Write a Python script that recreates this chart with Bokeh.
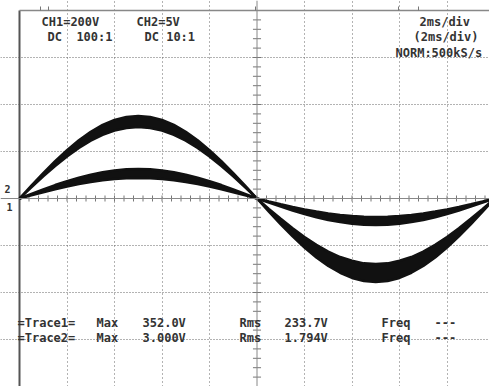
import numpy as np
from bokeh.plotting import figure
from bokeh.models import Range1d, Span, Label, Grid, FixedTicker
from bokeh.embed import file_html
from bokeh.resources import INLINE

# ---------------- data ----------------
# time axis, ms (2 ms/div)
t_ms = [0.0, 0.5, 1.0, 1.5, 2.0, 2.5, 3.0, 3.5, 4.0, 4.5, 5.0,
        5.5, 6.0, 6.5, 7.0, 7.5, 8.0, 8.5, 9.0, 9.5, 10.0,
        10.5, 11.0, 11.5, 12.0, 12.5, 13.0, 13.5, 14.0, 14.5, 15.0,
        15.5, 16.0, 16.5, 17.0, 17.5, 18.0, 18.5, 19.0, 19.5, 20.0]

# Trace 1 (CH1, 200 V/div): outer and inner edge of the thick band, volts
ch1_outer = [0, 55, 108, 159, 206, 248, 284, 313, 334, 347, 351,
             347, 334, 313, 284, 248, 206, 159, 108, 55, 0,
             -56, -110, -161, -209, -251, -287, -316, -338, -351, -355,
             -351, -338, -316, -287, -251, -209, -161, -110, -56, 0]
ch1_inner = [0, 47, 94, 138, 179, 215, 246, 271, 289, 300, 304,
             300, 289, 271, 246, 215, 179, 138, 94, 47, 0,
             -44, -86, -127, -164, -197, -226, -249, -265, -276, -279,
             -276, -265, -249, -226, -197, -164, -127, -86, -44, 0]

# Trace 2 (CH2, 5 V/div): outer and inner edge, volts
ch2_outer = [0, 0.49, 0.97, 1.43, 1.85, 2.22, 2.54, 2.80, 2.99, 3.10, 3.14,
             3.10, 2.99, 2.80, 2.54, 2.22, 1.85, 1.43, 0.97, 0.49, 0,
             -0.44, -0.87, -1.28, -1.66, -1.99, -2.28, -2.51, -2.68, -2.79, -2.82,
             -2.79, -2.68, -2.51, -2.28, -1.99, -1.66, -1.28, -0.87, -0.44, 0]
ch2_inner = [0, 0.34, 0.67, 0.99, 1.28, 1.54, 1.76, 1.94, 2.07, 2.15, 2.18,
             2.15, 2.07, 1.94, 1.76, 1.54, 1.28, 0.99, 0.67, 0.34, 0,
             -0.31, -0.61, -0.89, -1.16, -1.39, -1.59, -1.76, -1.87, -1.95, -1.97,
             -1.95, -1.87, -1.76, -1.59, -1.39, -1.16, -0.89, -0.61, -0.31, 0]

# screen texts
NB = "\u00a0"
top_left = ["CH1=200V", "DC" + NB * 2 + "100:1", "CH2=5V", "DC" + NB + "10:1"]
top_right = ["2ms/div", "(2ms/div)", "NORM:500kS/s"]
row1 = ["=Trace1=", "Max", "352.0V", "Rms", "233.7V", "Freq", "---"]
row2 = ["=Trace2=", "Max", "3.000V", "Rms", "1.794V", "Freq", "---"]

# ---------------- figure (frame fills the whole window) ----------------
W, H = 489, 386
L, T = 19, 10                 # graticule's left and top edge, px
PX_PER_MS = 47.5 / 2.0
PX_PER_DIV_Y = 47.0
YC = T + 4 * PX_PER_DIV_Y     # centre line, px
V1 = 200.0 / PX_PER_DIV_Y     # CH1 volts per px
V2 = 5.0 / PX_PER_DIV_Y       # CH2 volts per px

x0, x1 = -L / PX_PER_MS, (W - L) / PX_PER_MS
p = figure(width=W, height=H, output_backend="svg", toolbar_location=None,
           x_range=Range1d(x0, x1), y_range=Range1d(-(H - YC) * V1, YC * V1),
           x_axis_location=None, y_axis_location=None,
           min_border_left=0, min_border_top=0, min_border_right=0, min_border_bottom=0)
p.extra_y_ranges = {"ch2": Range1d(-(H - YC) * V2, YC * V2)}
p.outline_line_color = None
p.background_fill_color = "white"
p.border_fill_color = "white"
p.grid.visible = False

def px_x(px):
    return (px - L) / PX_PER_MS

def px_y(py):
    return (YC - py) * V1

# dotted graticule
p.add_layout(Grid(dimension=0, ticker=FixedTicker(ticks=[2, 4, 6, 8, 12, 14, 16, 18]),
                  grid_line_color="#666666", grid_line_dash="1 3", grid_line_width=1))
p.add_layout(Grid(dimension=1, ticker=FixedTicker(ticks=[-600, -400, -200, 200, 400, 600]),
                  grid_line_color="#666666", grid_line_dash="1 2", grid_line_width=1))

# centre axes with minor ticks
p.add_layout(Span(location=10, dimension="height", line_color="#888888", line_width=1))
p.add_layout(Span(location=0, dimension="width", line_color="#888888", line_width=1))
tx = np.arange(0.4, 20, 0.4)
p.segment(x0=tx, y0=-12.8, x1=tx, y1=12.8, line_color="#777777", line_width=1)
ty = np.arange(-760, 800, 40)
p.segment(x0=10 - 0.17, y0=ty, x1=10 + 0.17, y1=ty, line_color="#777777", line_width=1)

# frame borders (left, top)
p.segment(x0=0, y0=-800, x1=0, y1=800, line_color="#555555", line_width=2)
p.segment(x0=0, y0=800, x1=x1, y1=800, line_color="#888888", line_width=1.5)
# small markers above the top border
mk = [px_x(v) for v in (40, 48, 255, 398, 418)]
p.segment(x0=mk, y0=800, x1=mk, y1=800 + 4 * V1, line_color="#777777", line_width=1)

# traces
wave = "#111111"
p.varea(x=t_ms, y1=ch1_inner, y2=ch1_outer, fill_color=wave)
p.line(t_ms, ch1_inner, line_color=wave, line_width=2.5)
p.line(t_ms, ch1_outer, line_color=wave, line_width=2.5)
p.varea(x=t_ms, y1=ch2_inner, y2=ch2_outer, fill_color=wave, y_range_name="ch2")
p.line(t_ms, ch2_inner, line_color=wave, line_width=2.5, y_range_name="ch2")
p.line(t_ms, ch2_outer, line_color=wave, line_width=2.5, y_range_name="ch2")

FONT = "DejaVu Sans Mono"
def lab(text, xpx, ypx, size="12px", style="bold", color="#333333"):
    p.add_layout(Label(x=px_x(xpx), y=px_y(ypx), text=text, text_font=FONT,
                       text_font_size=size, text_font_style=style, text_color=color,
                       text_baseline="alphabetic", text_align="left"))

# top-left channel info
for txt, (xx, yy) in zip(top_left, [(41, 21), (47, 36), (136, 21), (144, 36)]):
    lab(txt, xx, yy)
# top-right timebase
for txt, (xx, yy) in zip(top_right, [(419, 21), (413, 36), (395, 52)]):
    lab(txt, xx, yy)
# measurement rows
xs = [17, 96, 142, 239, 284, 381, 434]
for txt, xx in zip(row1, xs):
    lab(txt, xx, 322)
for txt, xx in zip(row2, xs):
    lab(txt, xx, 337)

# channel ground markers
lab("2", 4, 188, size="10px")
lab("1", 6, 206, size="10px")

open("out.html", "w").write(file_html(p, INLINE))
